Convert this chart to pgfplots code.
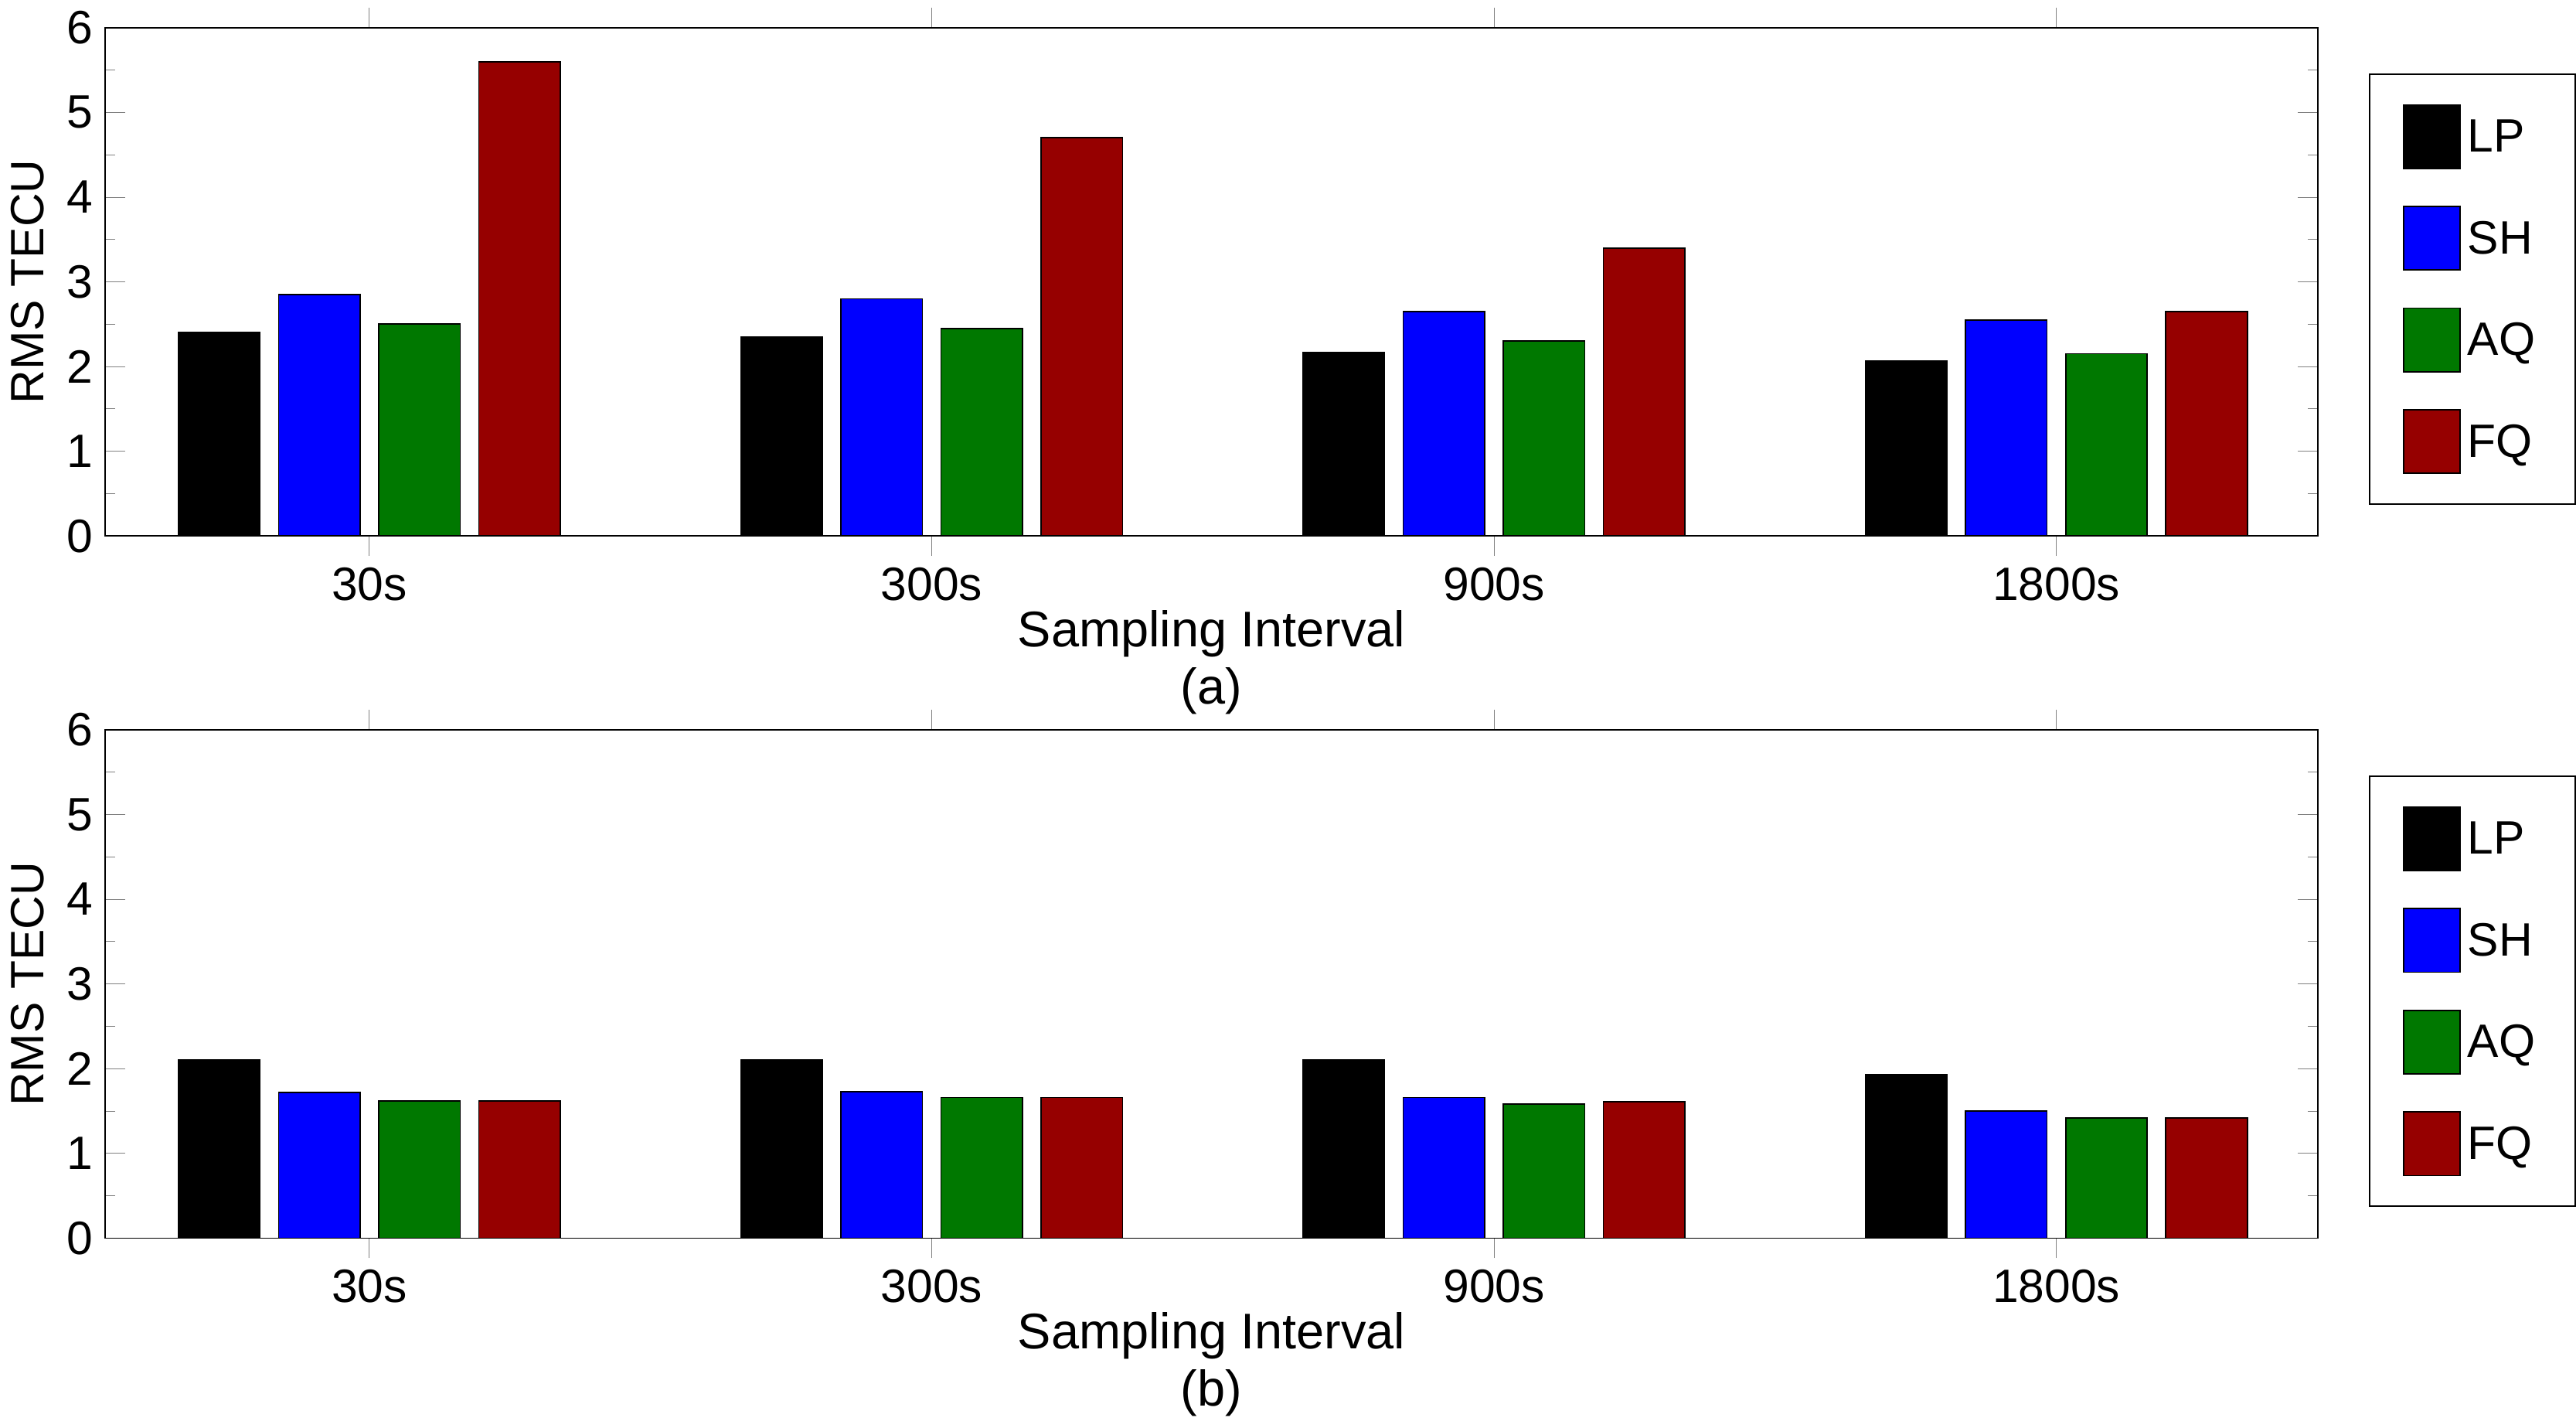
\documentclass[border=0pt]{standalone}
\usepackage{pgfplots}
\pgfplotsset{compat=1.18}
\usepackage{fontspec}
\setmainfont{Liberation Sans}
\definecolor{cLP}{RGB}{0,0,0}
\definecolor{cSH}{RGB}{0,0,255}
\definecolor{cAQ}{RGB}{0,120,0}
\definecolor{cFQ}{RGB}{150,0,0}
\pgfplotsset{
  sq/.style={legend image code/.code={\draw[##1,draw=black] (0pt,-9pt) rectangle (17pt,10pt);}},
  myax/.style={
    width=662pt, height=152pt, scale only axis,
    ymin=0, ymax=6, ytick={0,...,6},
    xmin=-0.47, xmax=3.465,
    xtick={0,1,2,3}, xticklabels={30s,300s,900s,1800s},
    minor y tick num=1,
    tick align=inside, tick pos=both,
    major tick length=6pt, minor tick length=3pt,
    ticklabel style={font=\fontsize{14}{16}\selectfont},
    /pgf/number format/assume math mode=true,
    ylabel={RMS TECU},
    xlabel style={align=center, font=\fontsize{15}{17}\selectfont, yshift=4pt},
    ylabel style={font=\fontsize{14}{16}\selectfont},
    legend style={at={(1.023,0.91)}, anchor=north west, draw=black,
      font=\fontsize{14}{16}\selectfont, row sep=11pt, inner xsep=10pt, inner ysep=9pt},
    legend cell align=left,
    ybar, bar width=0.145,
  },
}
\begin{document}
\begin{tikzpicture}
\begin{axis}[myax, name=top, xlabel={Sampling Interval\\(a)}]
\addplot[fill=cLP, draw=black, bar shift=-0.267, sq] coordinates {(0,2.4) (1,2.35) (2,2.17) (3,2.07)};
\addplot[fill=cSH, draw=black, bar shift=-0.089, sq] coordinates {(0,2.85) (1,2.8) (2,2.65) (3,2.55)};
\addplot[fill=cAQ, draw=black, bar shift=0.089, sq] coordinates {(0,2.5) (1,2.45) (2,2.3) (3,2.15)};
\addplot[fill=cFQ, draw=black, bar shift=0.267, sq] coordinates {(0,5.6) (1,4.7) (2,3.4) (3,2.65)};
\legend{LP,SH,AQ,FQ}
\end{axis}
\begin{axis}[myax, at={(top.south west)}, anchor=north west, yshift=-58pt, xlabel={Sampling Interval\\(b)}]
\addplot[fill=cLP, draw=black, bar shift=-0.267, sq] coordinates {(0,2.1) (1,2.1) (2,2.1) (3,1.93)};
\addplot[fill=cSH, draw=black, bar shift=-0.089, sq] coordinates {(0,1.72) (1,1.73) (2,1.66) (3,1.5)};
\addplot[fill=cAQ, draw=black, bar shift=0.089, sq] coordinates {(0,1.62) (1,1.66) (2,1.58) (3,1.42)};
\addplot[fill=cFQ, draw=black, bar shift=0.267, sq] coordinates {(0,1.62) (1,1.66) (2,1.61) (3,1.42)};
\legend{LP,SH,AQ,FQ}
\end{axis}
\end{tikzpicture}
\end{document}
